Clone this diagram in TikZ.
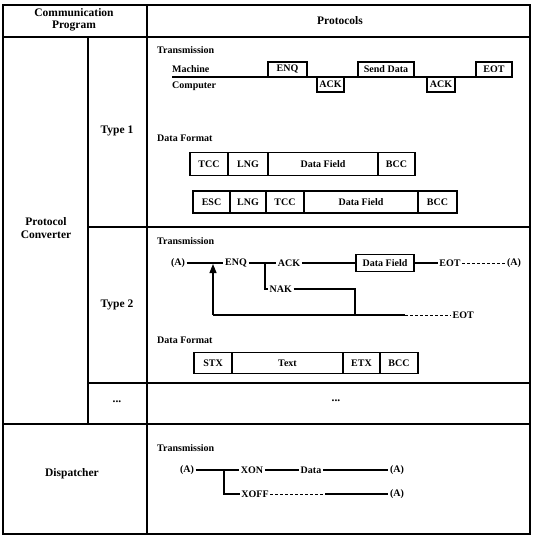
\documentclass[tikz,border=0pt]{standalone}
\usepackage{fontspec}
\setmainfont{Liberation Serif}
\usetikzlibrary{arrows.meta}
\begin{document}
\begin{tikzpicture}[x=1pt,y=-1pt,
  frame/.style={line width=1.6pt},
  lbl/.style={font=\bfseries\fontsize{10}{11}\selectfont, inner sep=1.5pt},
  hdr/.style={font=\bfseries\fontsize{11.5}{12.5}\selectfont, align=center, inner sep=0pt},
  ttl/.style={font=\bfseries\fontsize{10}{11}\selectfont, anchor=west, inner sep=0pt},
  cell/.style={draw, line width=1.2pt, inner sep=0pt, font=\bfseries\fontsize{10}{11}\selectfont},
  wire/.style={line width=1.1pt},
]
\useasboundingbox (0,0) rectangle (533,537);
% table frame
\draw[frame] (3,5) rectangle (530,534);
\draw[frame] (3,37) -- (530,37);
\draw[frame] (147,5) -- (147,534);
\draw[frame] (88,37) -- (88,424);
\draw[frame] (88,227) -- (530,227);
\draw[frame] (88,383) -- (530,383);
\draw[frame] (3,424) -- (530,424);
% header and left column
\node[hdr] (hcp) at (74,20) {Communication\\Program};
\node[hdr] (hpr) at (340,21) {Protocols};
\node[hdr] (pc) at (46,228) {Protocol\\Converter};
\node[hdr] (t1) at (117,131) {Type 1};
\node[hdr] (t2) at (117,305) {Type 2};
\node[hdr] (dots1) at (117,402) {...};
\node[hdr] (dots2) at (336,401) {...};
\node[hdr] (disp) at (72,474) {Dispatcher};
% ---------- Type 1 transmission ----------
\node[ttl] (tr1) at (157,50) {Transmission};
\node[lbl, anchor=west, inner sep=0pt] (mach) at (172,69) {Machine};
\node[lbl, anchor=west, inner sep=0pt] (comp) at (172,86) {Computer};
\coordinate (tlL) at (172,77);
\coordinate (tlR) at (512,77);
\draw[wire] (tlL) -- (tlR);
\node[cell, minimum width=39, minimum height=15] (enq) at (287.5,69.5) {ENQ};
\node[cell, minimum width=27, minimum height=15] (ack1) at (330.5,84.5) {ACK};
\node[cell, minimum width=56, minimum height=15] (send) at (386,69.5) {Send Data};
\node[cell, minimum width=28, minimum height=15] (ack2) at (441,84.5) {ACK};
\node[cell, minimum width=36, minimum height=15] (eot) at (494,69.5) {EOT};
% ---------- Type 1 data format ----------
\node[ttl] (df1) at (157,138) {Data Format};
\node[cell, minimum width=38, minimum height=23] (tcc) at (209,164) {TCC};
\node[cell, minimum width=40, minimum height=23] (lng) at (248,164) {LNG};
\node[cell, minimum width=110, minimum height=23] (dfa) at (323,164) {Data Field};
\node[cell, minimum width=37, minimum height=23] (bcc) at (396.5,164) {BCC};
\node[cell, minimum width=37, minimum height=22] (esc) at (211.5,202) {ESC};
\node[cell, minimum width=36, minimum height=22] (lng2) at (248,202) {LNG};
\node[cell, minimum width=38, minimum height=22] (tcc2) at (285,202) {TCC};
\node[cell, minimum width=114, minimum height=22] (dfb) at (361,202) {Data Field};
\node[cell, minimum width=39, minimum height=22] (bcc2) at (437.5,202) {BCC};
% ---------- Type 2 transmission ----------
\node[ttl] (tr2) at (157,241) {Transmission};
\node[lbl] (a1) at (178,263) {(A)};
\node[lbl] (enq2) at (236,263) {ENQ};
\node[lbl] (ack3) at (289,263) {ACK};
\node[lbl, anchor=west] (nak) at (268,289) {NAK};
\node[cell, minimum width=58, minimum height=17] (dfc) at (385,263) {Data Field};
\node[lbl] (eot2) at (450,263) {EOT};
\node[lbl] (a2) at (514,263) {(A)};
\node[lbl, anchor=west] (eot3) at (451,315) {EOT};
\coordinate (j1) at (265,263);
\coordinate (lp) at (213,315);
\coordinate (lpt) at (213,264);
\coordinate (nk) at (355,289);
\coordinate (nkb) at (355,315);
\coordinate (bm) at (405,315);
\draw[wire] (a1.east) -- (enq2.west);
\draw[wire, -{Triangle[length=9pt,width=7pt]}] (lp) -- (lpt);
\draw[wire] (enq2.east) -- (ack3.west);
\draw[wire] (j1) |- (nak.west);
\draw[wire] (ack3.east) -- (dfc.west);
\draw[wire] (dfc.east) -- (eot2.west);
\draw[line width=0.8pt, densely dashed] (eot2.east) -- (a2.west);
\draw[wire] (nak.east) -- (nk) -- (nkb);
\draw[wire] (lp) -- (bm);
\draw[line width=0.8pt, densely dashed] (bm) -- (eot3.west);
% ---------- Type 2 data format ----------
\node[ttl] (df2) at (157,340) {Data Format};
\node[cell, minimum width=38, minimum height=21] (stx) at (213,363) {STX};
\node[cell, minimum width=111, minimum height=21] (txt) at (287.5,363) {Text};
\node[cell, minimum width=37, minimum height=21] (etx) at (361.5,363) {ETX};
\node[cell, minimum width=38, minimum height=21] (bcc3) at (399,363) {BCC};
% ---------- Dispatcher ----------
\node[ttl] (tr3) at (157,448) {Transmission};
\node[lbl] (b1) at (187,470) {(A)};
\node[lbl] (xon) at (252,470) {XON};
\node[lbl] (data) at (311,470) {Data};
\node[lbl] (b2) at (397,470) {(A)};
\node[lbl] (xoff) at (255,494) {XOFF};
\node[lbl] (b3) at (397,494) {(A)};
\coordinate (j2) at (224,470);
\coordinate (xm) at (325,494);
\draw[wire] (b1.east) -- (xon.west);
\draw[wire] (j2) |- (xoff.west);
\draw[wire] (xon.east) -- (data.west);
\draw[wire] (data.east) -- (b2.west);
\draw[line width=0.8pt, densely dashed] (xoff.east) -- (xm);
\draw[wire] (xm) -- (b3.west);
\end{tikzpicture}
\end{document}
